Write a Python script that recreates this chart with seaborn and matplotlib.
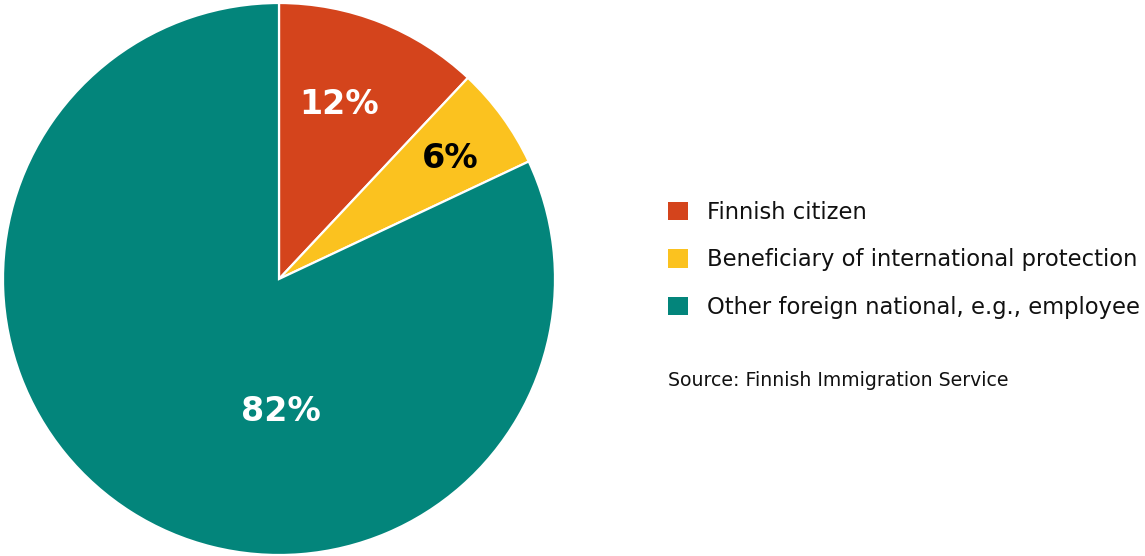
import matplotlib.pyplot as plt
import seaborn as sns
import numpy as np
from matplotlib.patches import Patch

categories = ["Finnish citizen", "Beneficiary of international protection",
              "Other foreign national, e.g., employee"]
shares = [12, 6, 82]
pct_labels = ["12%", "6%", "82%"]
colors = ["#D4441C", "#FBC21F", "#03857B"]
label_colors = ["white", "black", "white"]

sns.set_style("white")
plt.rcParams["font.family"] = ["DejaVu Sans"]

W, H = 1145, 556
fig = plt.figure(figsize=(W / 100, H / 100), dpi=100)
ax = fig.add_axes([3 / W, 1 - 555 / H, 552 / W, 552 / H])

wedges, _ = ax.pie(shares, colors=colors, startangle=90, counterclock=False,
                   wedgeprops=dict(edgecolor="white", linewidth=1.6))
ax.set_xlim(-1, 1)
ax.set_ylim(-1, 1)
ax.set_aspect("equal")
ax.axis("off")

# label placement (radius, angle) per wedge
label_pos = [(0.67, 70.9), (0.76, 35.1), (0.48, -89.0)]
for txt, col, (r, ang) in zip(pct_labels, label_colors, label_pos):
    a = np.deg2rad(ang)
    ax.text(r * np.cos(a), r * np.sin(a), txt, ha="center", va="center",
            color=col, fontsize=24, fontweight="bold")

handles = [Patch(facecolor=c, edgecolor="none") for c in colors]
fig.legend(handles, categories, loc="upper left",
           bbox_to_anchor=(668 / W, 1 - 201 / H), frameon=False,
           fontsize=16.3, handlelength=0.885, handleheight=0.885,
           handletextpad=0.82, labelspacing=1.08, borderpad=0,
           borderaxespad=0, labelcolor="#111111")

fig.text(668 / W, 1 - 380 / H, "Source: Finnish Immigration Service",
         ha="left", va="center", fontsize=13.6, color="#111111")

fig.savefig("out.png", dpi=100)
